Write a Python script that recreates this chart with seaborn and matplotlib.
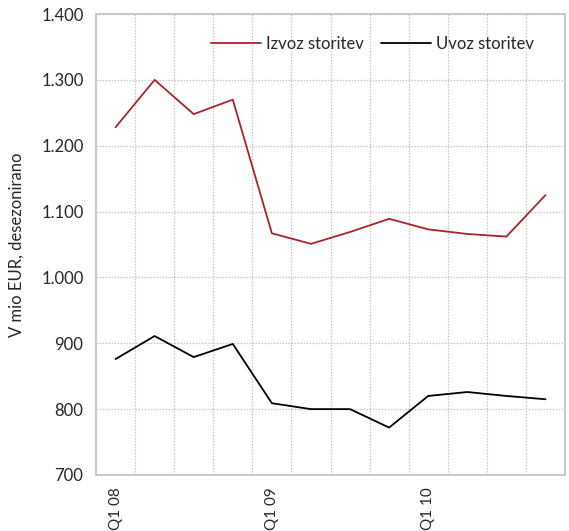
import pandas as pd
import seaborn as sns
import matplotlib.pyplot as plt
from matplotlib.ticker import FuncFormatter

quarters = ['Q1 08', 'Q2 08', 'Q3 08', 'Q4 08',
            'Q1 09', 'Q2 09', 'Q3 09', 'Q4 09',
            'Q1 10', 'Q2 10', 'Q3 10', 'Q4 10']
tick_labels = ['Q1 08', '', '', '', 'Q1 09', '', '', '', 'Q1 10', '', '', '']
izvoz = [1228, 1300, 1248, 1270, 1067, 1051, 1069, 1089, 1073, 1066, 1062, 1125]
uvoz = [876, 911, 879, 899, 809, 800, 800, 772, 820, 826, 820, 815]
series = ['Izvoz storitev', 'Uvoz storitev']

df = pd.DataFrame({
    'pos': list(range(len(quarters))) * 2,
    'value': izvoz + uvoz,
    'serija': [series[0]] * len(izvoz) + [series[1]] * len(uvoz),
})

sns.set_style("white")
plt.rcParams['font.family'] = ['Lato', 'DejaVu Sans']

fig = plt.figure(figsize=(5.69, 5.31), dpi=100)
ax = fig.add_axes([0.1687, 0.1055, 0.8243, 0.8681])

sns.lineplot(data=df, x='pos', y='value', hue='serija', ax=ax,
             palette=['#a8232a', '#000000'], linewidth=1.3)

ax.set_xlim(-0.5, len(quarters) - 0.5)
ax.set_ylim(700, 1400)
ax.set_yticks(range(700, 1401, 100))
ax.yaxis.set_major_formatter(FuncFormatter(lambda v, p: f"{int(v):,}".replace(',', '.')))
ax.set_xticks(range(len(quarters)))
ax.set_xticklabels(tick_labels, rotation=90, fontsize=11)
ax.tick_params(axis='y', labelsize=12, length=0, pad=9)
ax.tick_params(axis='x', length=0, pad=9)

# gridlines between quarters
ax.set_xticks([i + 0.5 for i in range(len(quarters) - 1)], minor=True)
ax.grid(axis='x', which='minor', color='#c4c4c4', linestyle=(0, (1.2, 1.2)), linewidth=0.9)
ax.grid(axis='y', which='major', color='#c4c4c4', linestyle=(0, (1.2, 1.2)), linewidth=0.9)
ax.grid(axis='x', which='major', visible=False)
ax.tick_params(axis='x', which='minor', length=0)

for s in ax.spines.values():
    s.set_color('#c0c0c0')
    s.set_linewidth(1.2)

ax.set_xlabel('')
ax.set_ylabel('V mio EUR, desezonirano', fontsize=12, labelpad=12)

ax.legend(loc='upper right', ncol=2, frameon=False, fontsize=12,
          handlelength=3.0, handletextpad=0.3, columnspacing=1.0,
          bbox_to_anchor=(0.965, 0.985))

fig.savefig('out.png', dpi=100)
